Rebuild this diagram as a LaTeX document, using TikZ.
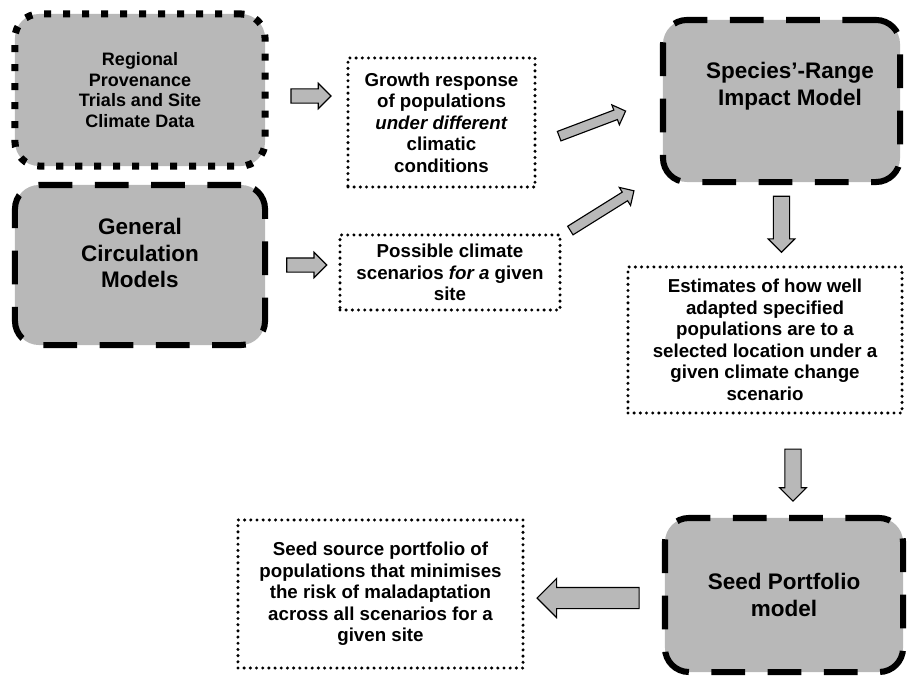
\documentclass[tikz,border=0pt]{standalone}
\usepackage{fontspec}
\setmainfont{Liberation Sans}
\usetikzlibrary{positioning,calc}
\usetikzlibrary{shapes,arrows}
\definecolor{boxgray}{gray}{0.72}
\newcommand{\bigtext}{\fontsize{16}{19}\selectfont\bfseries}
\newcommand{\smalltext}{\fontsize{13.3}{15.3}\selectfont\bfseries}

\tikzset{
  modelbox/.style={draw, fill=boxgray, line width=4.3pt, dash pattern=on 24pt off 16pt,
    rounded corners=0.6cm, align=center, font=\bigtext},
  databox/.style={draw, fill=boxgray, line width=5pt, dash pattern=on 5pt off 8.5pt,
    rounded corners=0.6cm, align=center, font=\fontsize{12.8}{14.7}\selectfont\bfseries},
  outbox/.style={draw, fill=white, line width=2.4pt, line cap=round, dash pattern=on 0pt off 4.4pt,
    align=center, font=\smalltext},
  blockarrow/.style={single arrow, draw, fill=boxgray, line width=0.8pt, inner sep=0pt,
    text width=0pt, text depth=0pt, minimum width=0pt}
}

\begin{document}
\begin{tikzpicture}[x=0.025cm,y=-0.025cm]
  \useasboundingbox (0,0) rectangle (907,677);

  % inputs
  \node[databox, minimum width=6.25cm, minimum height=3.8cm] (trials) at (140,90)
       {Regional\\Provenance\\Trials and Site\\Climate Data};
  \node[modelbox, minimum width=6.25cm, minimum height=4cm] (gcm) at (140,265) {};
  \node[font=\bigtext, align=center] (gcmtext) at (140,253) {General\\Circulation\\Models};

  % intermediate outputs
  \node[outbox, minimum width=4.675cm, minimum height=3.225cm] (growth) at (441.5,122.5)
       {Growth response\\of populations\\\textit{under different}\\climatic\\conditions};
  \node[outbox, minimum width=5.5cm, minimum height=1.875cm] (scen) at (450,272.5)
       {Possible climate\\scenarios \textit{for a} given\\site};

  % impact model
  \node[modelbox, minimum width=5.925cm, minimum height=4.05cm] (impact) at (781.5,101) {};
  \node[font=\bigtext, align=center] (impacttext) at (790,86) {Species'-Range\\Impact Model};
  \node[outbox, minimum width=6.85cm, minimum height=3.65cm] (est) at (765,340)
       {Estimates of how well\\adapted specified\\populations are to a\\selected location under a\\given climate change\\scenario};

  % portfolio
  \node[modelbox, minimum width=5.95cm, minimum height=3.85cm] (seedmod) at (784,595)
       {Seed Portfolio\\model};
  \node[outbox, minimum width=7.125cm, minimum height=3.7cm] (seedsrc) at (380.5,594)
       {Seed source portfolio of\\populations that minimises\\the risk of maladaptation\\across all scenarios for a\\given site};

  % block arrows (minimum height = length)
  \node[blockarrow, minimum height=1cm, text height=0.325cm, single arrow head extend=0.14cm]
       (a1) at ($(trials.east)!0.5!(growth.west |- trials.east)+(0,6)$) {};
  \node[blockarrow, minimum height=1cm, text height=0.325cm, single arrow head extend=0.14cm]
       (a2) at ($(gcm.east)!0.5!(scen.west |- gcm.east)$) {};
  \node[blockarrow, minimum height=1.775cm, text height=0.225cm, single arrow head extend=0.14cm,
       rotate=20.7] (a3) at (590,124.5) {};
  \node[blockarrow, minimum height=1.875cm, text height=0.225cm, single arrow head extend=0.14cm,
       rotate=32] (a4) at (600,212) {};
  \node[blockarrow, minimum height=1.4cm, text height=0.38cm, single arrow head extend=0.13cm,
       rotate=-90] (a5) at ($(impact.south)!0.5!(est.north -| impact.south)+(0,-5)$) {};
  \node[blockarrow, minimum height=1.3cm, text height=0.38cm, single arrow head extend=0.13cm,
       rotate=-90] (a6) at (793,471) {};
  \node[blockarrow, minimum height=2.55cm, text height=0.5cm, single arrow head extend=0.225cm,
       rotate=180] (a7) at ($(seedsrc.east)!0.5!(seedmod.west |- seedsrc.east)+(0,4)$) {};
\end{tikzpicture}
\end{document}
